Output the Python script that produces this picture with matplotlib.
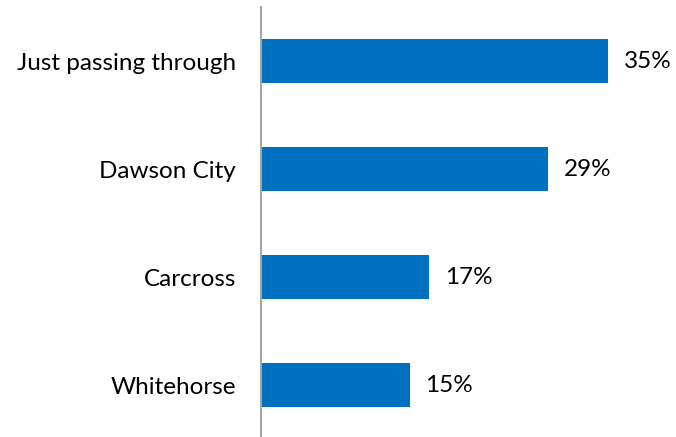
import matplotlib
matplotlib.use("Agg")
import matplotlib.pyplot as plt

# categories and their shares (%)
categories = ["Just passing through", "Dawson City", "Carcross", "Whitehorse"]
shares = [35, 29, 17, 15]
value_labels = ["35%", "29%", "17%", "15%"]

plt.rcParams["font.family"] = ["Lato", "DejaVu Sans"]

fig = plt.figure(figsize=(6.76, 4.37), dpi=100)
ax = fig.add_axes([261 / 676, -2 / 437, 415 / 676, 432 / 437])

ypos = list(range(len(categories)))
ax.barh(ypos, shares, height=0.4, color="#0070C0")

for y, v, lab in zip(ypos, shares, value_labels):
    ax.annotate(lab, (v, y), xytext=(11.5, 0), textcoords="offset points",
                va="center", ha="left", fontsize=17.5, color="black")

ax.set_yticks(ypos)
ax.set_yticklabels(categories, fontsize=17.5)
ax.tick_params(axis="y", length=0, pad=18)
ax.set_xticks([])
ax.set_xlim(0, 41.9)
ax.set_ylim(3.5, -0.5)

for s in ["top", "right", "bottom"]:
    ax.spines[s].set_visible(False)
ax.spines["left"].set_color("#A6A6A6")
ax.spines["left"].set_linewidth(1.5)

fig.savefig("out.png", dpi=100)
